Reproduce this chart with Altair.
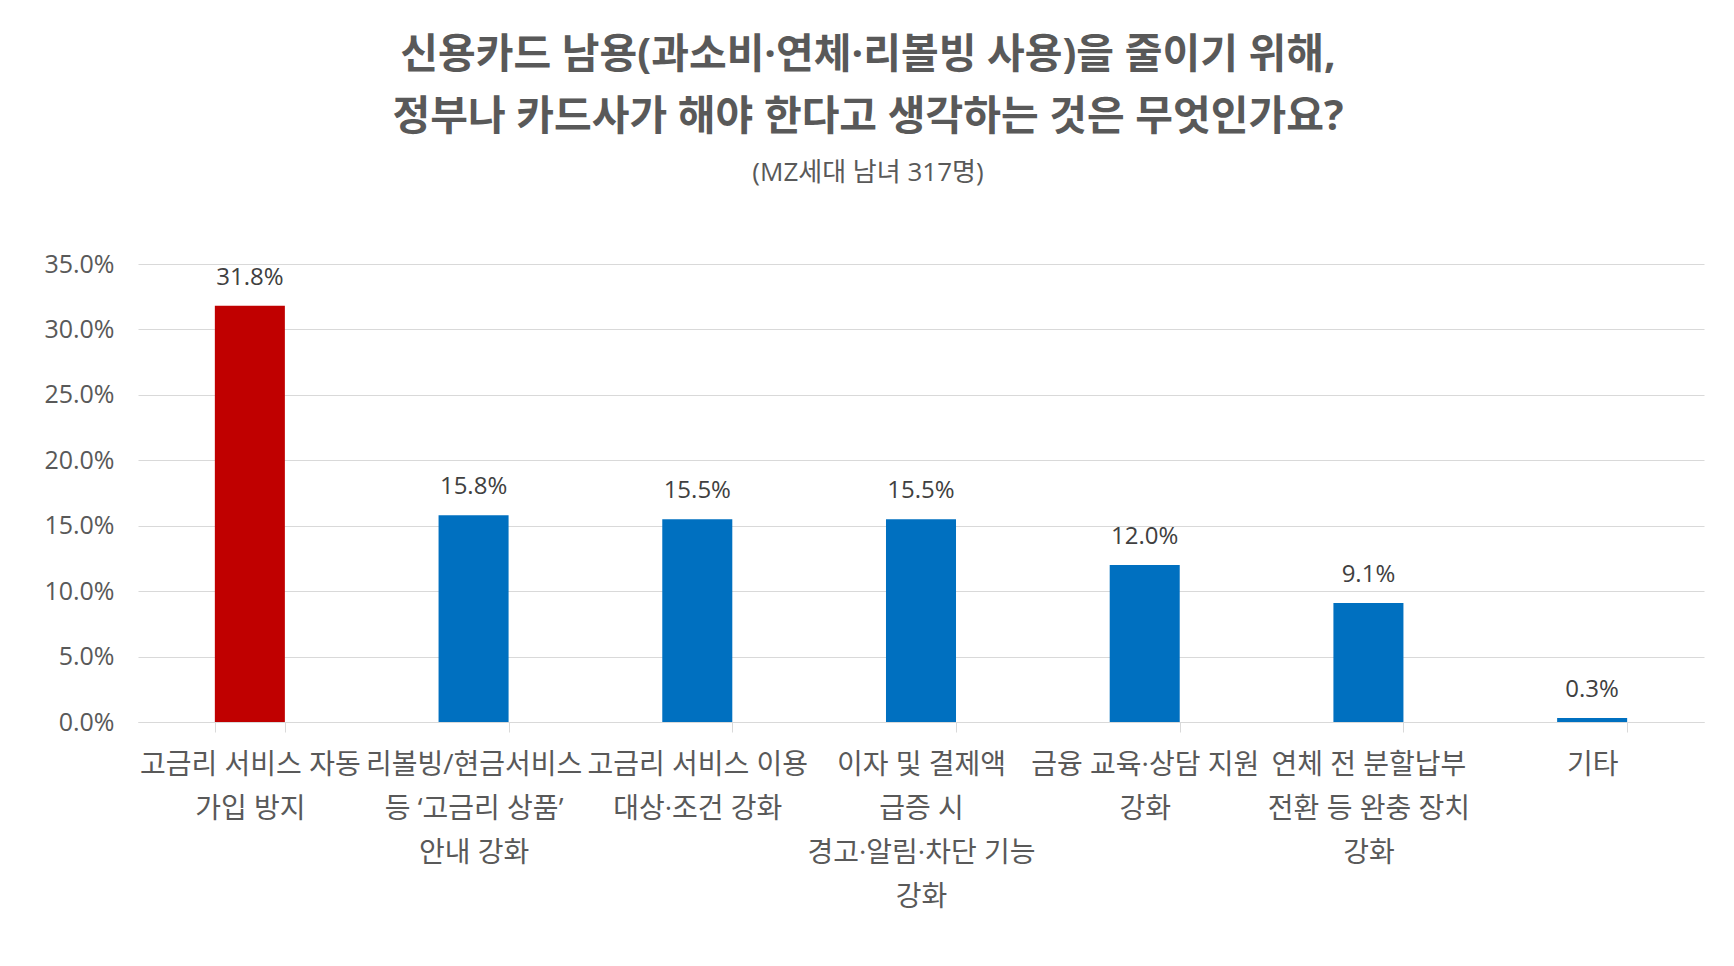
import altair as alt
import pandas as pd

categories = [
    "고금리 서비스 자동\n가입 방지",
    "리볼빙/현금서비스\n등 ‘고금리 상품’\n안내 강화",
    "고금리 서비스 이용\n대상·조건 강화",
    "이자 및 결제액\n급증 시\n경고·알림·차단 기능\n강화",
    "금융 교육·상담 지원\n강화",
    "연체 전 분할납부\n전환 등 완충 장치\n강화",
    "기타",
]
values = [31.8, 15.8, 15.5, 15.5, 12.0, 9.1, 0.3]
bar_colors = ["#C00000", "#0070C0", "#0070C0", "#0070C0", "#0070C0", "#0070C0", "#0070C0"]

df = pd.DataFrame({"cat": categories, "val": values, "color": bar_colors})

FONT = "Open Sans, Noto Sans CJK KR"

x = alt.X(
    "cat:N",
    sort=categories,
    title=None,
    scale=alt.Scale(paddingInner=0.687, paddingOuter=0.3435),
    axis=alt.Axis(
        labelAngle=0,
        labelExpr="split(datum.label, '\\n')",
        labelFont=FONT,
        labelFontSize=28,
        labelColor="#595959",
        labelLineHeight=44,
        labelLimit=0,
        labelPadding=19,
        labelBaseline="top",
        tickBand="extent",
        tickColor="#d9d9d9",
        tickSize=10,
        domainColor="#d9d9d9",
        grid=False,
    ),
)

y = alt.Y(
    "val:Q",
    title=None,
    scale=alt.Scale(domain=[0, 35], nice=False),
    axis=alt.Axis(
        values=[0, 5, 10, 15, 20, 25, 30, 35],
        labelExpr="format(datum.value, '.1f') + '%'",
        labelFont=FONT,
        labelFontSize=25,
        labelColor="#595959",
        labelPadding=24,
        ticks=False,
        domain=False,
        gridColor="#d9d9d9",
        gridWidth=1,
    ),
)

bars = alt.Chart(df).mark_bar().encode(
    x=x,
    y=y,
    color=alt.Color("color:N", scale=None, legend=None),
)

labels = (
    alt.Chart(df)
    .transform_calculate(txt="format(datum.val, '.1f') + '%'")
    .mark_text(dy=-21, baseline="alphabetic", font=FONT, fontSize=24, color="#404040")
    .encode(
        x=alt.X("cat:N", sort=categories),
        y="val:Q",
        text="txt:N",
    )
)

chart = (
    alt.layer(bars, labels)
    .properties(
        width=1566,
        height=458,
        autosize=alt.AutoSizeParams(type="none"),
        padding={"left": 130, "top": 256, "right": 22, "bottom": 230},
        title=alt.TitleParams(
            text=[
                "신용카드 남용(과소비·연체·리볼빙 사용)을 줄이기 위해,",
                "정부나 카드사가 해야 한다고 생각하는 것은 무엇인가요?",
            ],
            subtitle="(MZ세대 남녀 317명)",
            font=FONT,
            fontSize=41,
            fontWeight="bold",
            color="#595959",
            lineHeight=62,
            subtitleFont=FONT,
            subtitleFontSize=26,
            subtitleColor="#595959",
            subtitlePadding=21,
            anchor="middle",
            frame="group",
            dx=-53,
            offset=65,
        ),
    )
    .configure_view(stroke=None)
)

chart.save("out.html", embed_options={"renderer": "svg", "actions": False})
